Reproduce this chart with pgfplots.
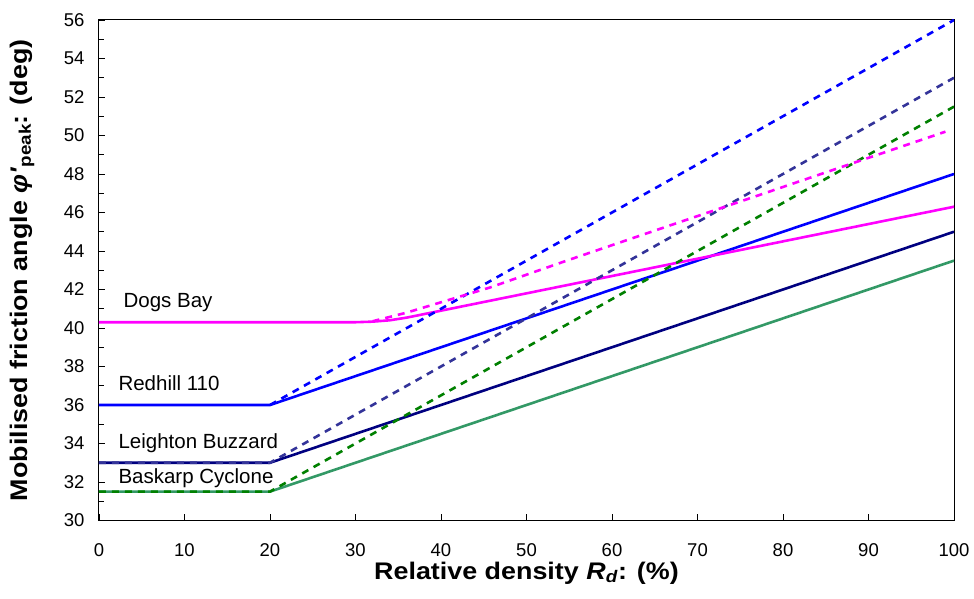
\documentclass[border=0pt]{standalone}
\usepackage{fontspec}
\setmainfont{Liberation Sans}
\newfontfamily\labelfont[FakeStretch=1.12]{Liberation Sans}
\usepackage{pgfplots}
\pgfplotsset{compat=1.18}

\definecolor{dogs}{RGB}{255,0,255}
\definecolor{redhill}{RGB}{0,0,255}
\definecolor{leighton}{RGB}{0,0,128}
\definecolor{leightond}{RGB}{51,51,153}
\definecolor{baskarp}{RGB}{51,153,102}
\definecolor{baskarpd}{RGB}{0,128,0}

\begin{document}
\begin{tikzpicture}
  \useasboundingbox (-99pt,-78.5pt) rectangle (875pt,520.5pt);
  \begin{axis}[
      scale only axis,
      width             = 855pt,
      height            = 500.5pt,
      xmin = 0, xmax = 100,
      ymin = 30, ymax = 56,
      xtick             = {0,10,...,100},
      ytick             = {30,32,...,56},
      minor ytick       = {31,33,...,55},
      tick align        = inside,
      tick pos          = left,
      major tick length = 6pt,
      minor tick length = 5pt,
      every tick/.style = {black, line width=0.8pt},
      axis line style   = {black, line width=1pt},
      /pgf/number format/assume math mode=true,
      ticklabel style   = {font=\fontsize{18.5}{22}\selectfont},
      xticklabel style  = {yshift=-20pt},
      yticklabel style  = {xshift=-11pt},
      xlabel            = {Relative density \textit{R}\textsubscript{\textit{d}}: (\%)},
      ylabel            = {Mobilised friction angle \textit{φ'}\textsubscript{peak}: (deg)},
      xlabel style      = {font=\labelfont\bfseries\fontsize{24}{28}\selectfont,
                           at={(axis description cs:0.5,0)}, anchor=base, yshift=-58.5pt},
      ylabel style      = {font=\labelfont\bfseries\fontsize{24}{28}\selectfont,
                           at={(axis description cs:0,0.5)}, anchor=center, yshift=77pt},
      every axis plot/.append style = {line width=2.6pt},
    ]

    % critical-state lines (solid)
    \addplot[baskarp]  coordinates {(0,31.5) (20,31.5) (100,43.5)};
    \addplot[leighton] coordinates {(0,33) (20,33) (100,45)};
    \addplot[redhill]  coordinates {(0,36) (20,36) (100,48)};
    \addplot[dogs]     coordinates {(0,40.3) (30,40.3) (32,40.33) (34,40.4) (36,40.54) (100,46.3)};

    % dashed lines
    \addplot[baskarpd, dash pattern=on 7pt off 6pt]  coordinates {(0,31.5) (20,31.5) (100,51.5)};
    \addplot[leightond, dash pattern=on 7pt off 6pt] coordinates {(0,33) (20,33) (100,53)};
    \addplot[redhill, dash pattern=on 7pt off 6pt]   coordinates {(20,36) (100,56)};
    \addplot[dogs, dash pattern=on 7pt off 6pt]      coordinates {(32,40.35) (36,40.8) (45.7,42.1) (54.7,43.5) (99,50.2)};

    \node[anchor=base west, font=\fontsize{20.5}{24}\selectfont] at (axis cs:2.46,41.08) {Dogs Bay};
    \node[anchor=base west, font=\fontsize{20.5}{24}\selectfont] at (axis cs:1.87,36.73) {Redhill 110};
    \node[anchor=base west, font=\fontsize{20.5}{24}\selectfont] at (axis cs:1.87,33.75) {Leighton Buzzard};
    \node[anchor=base west, font=\fontsize{20.5}{24}\selectfont] at (axis cs:1.87,31.93) {Baskarp Cyclone};
  \end{axis}
\end{tikzpicture}
\end{document}
